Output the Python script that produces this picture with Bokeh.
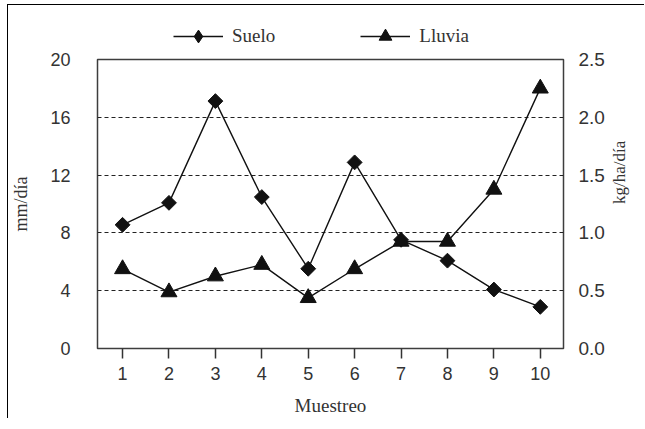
import math
from bokeh.plotting import figure
from bokeh.layouts import column
from bokeh.models import (Range1d, LinearAxis, FixedTicker, NumeralTickFormatter,
                          Legend, LegendItem)
from bokeh.embed import file_html
from bokeh.resources import INLINE

# ---- data ----
muestreo = [1, 2, 3, 4, 5, 6, 7, 8, 9, 10]
suelo = [1.07, 1.26, 2.14, 1.31, 0.69, 1.61, 0.94, 0.76, 0.51, 0.36]   # kg/ha/día (right axis)
lluvia = [5.5, 3.9, 5.0, 5.8, 3.5, 5.5, 7.4, 7.4, 11.0, 18.0]          # mm/día (left axis)
left_ticks = [0, 4, 8, 12, 16, 20]
right_ticks = [0.0, 0.5, 1.0, 1.5, 2.0, 2.5]
grid_ticks = [4, 8, 12, 16]
series_names = ["Suelo", "Lluvia"]
x_label = "Muestreo"
left_label = "mm/día"
right_label = "kg/ha/día"

SANS = "Liberation Sans"
SERIF = "Liberation Serif"
INK = "#111111"
TXT = "#333333"
W = 636

# ---------------- legend strip (top) ----------------
lg = figure(width=W, height=47, output_backend="svg", toolbar_location=None,
            x_range=Range1d(-3, -2), y_range=Range1d(0, 1),
            x_axis_location=None, y_axis_location=None, min_border=0)
lg.grid.visible = False
lg.outline_line_color = None
lg.background_fill_color = "white"
lg.border_fill_color = "white"
g_ls = lg.line(muestreo, suelo, line_color=INK, line_width=1.3)
g_ms = lg.scatter(muestreo, suelo, marker="diamond", size=14,
                  fill_color=INK, line_color=INK)
g_ll = lg.line(muestreo, lluvia, line_color=INK, line_width=1.3)
g_ml = lg.scatter(muestreo, lluvia, marker="triangle", size=14,
                  fill_color=INK, line_color=INK)
legend = Legend(items=[LegendItem(label=series_names[0], renderers=[g_ls, g_ms]),
                       LegendItem(label=series_names[1], renderers=[g_ll, g_ml])],
                location=(76, 0), orientation="horizontal",
                glyph_width=50, glyph_height=32, label_standoff=9, spacing=85,
                padding=0, margin=0, border_line_color=None,
                background_fill_alpha=0,
                label_text_font=SERIF, label_text_font_size="19px",
                label_text_color=TXT)
lg.add_layout(legend)

# ---------------- main chart ----------------
p = figure(width=W, height=372, output_backend="svg", toolbar_location=None,
           x_range=Range1d(0.46, 10.5), y_range=Range1d(0, 20),
           min_border_left=89, min_border_right=81, min_border_top=13,
           min_border_bottom=68)
p.styles = {"margin-top": "-6px"}
p.extra_y_ranges = {"r": Range1d(0, 2.5)}
p.background_fill_color = "white"
p.border_fill_color = "white"
p.border_fill_alpha = 0
p.outline_line_color = "#3d3d3d"
p.outline_line_width = 1.5

# grid
p.xgrid.visible = False
p.ygrid.ticker = FixedTicker(ticks=grid_ticks)
p.ygrid.grid_line_color = "#222222"
p.ygrid.grid_line_dash = "4 3"
p.ygrid.grid_line_width = 1.1

# bottom axis
xa = p.xaxis[0]
xa.ticker = FixedTicker(ticks=muestreo)
xa.axis_line_color = None
xa.major_tick_line_color = "#333333"
xa.major_tick_line_width = 1.5
xa.major_tick_out = 10
xa.major_tick_in = 0
xa.minor_tick_line_color = None
xa.major_label_standoff = 8
xa.major_label_text_font = SANS
xa.major_label_text_font_size = "18px"
xa.major_label_text_color = TXT
xa.axis_label = x_label
xa.axis_label_text_font = SERIF
xa.axis_label_text_font_style = "normal"
xa.axis_label_text_font_size = "19px"
xa.axis_label_text_color = TXT
xa.axis_label_standoff = 12

# left axis
ya = p.yaxis[0]
ya.ticker = FixedTicker(ticks=left_ticks)
ya.axis_line_color = None
ya.major_tick_line_color = None
ya.major_tick_out = 0
ya.major_tick_in = 0
ya.minor_tick_line_color = None
ya.major_label_standoff = 27
ya.major_label_text_font = SANS
ya.major_label_text_font_size = "18px"
ya.major_label_text_color = TXT
ya.axis_label = left_label
ya.axis_label_text_font = SERIF
ya.axis_label_text_font_style = "normal"
ya.axis_label_text_font_size = "18px"
ya.axis_label_text_color = TXT
ya.axis_label_standoff = 16

# right axis
ra = LinearAxis(y_range_name="r", ticker=FixedTicker(ticks=right_ticks),
                formatter=NumeralTickFormatter(format="0.0"))
ra.axis_line_color = None
ra.major_tick_line_color = None
ra.major_tick_out = 0
ra.major_tick_in = 0
ra.minor_tick_line_color = None
ra.major_label_standoff = 15
ra.major_label_text_font = SANS
ra.major_label_text_font_size = "19px"
ra.major_label_text_color = TXT
ra.axis_label = right_label
ra.axis_label_text_font = SERIF
ra.axis_label_text_font_style = "normal"
ra.axis_label_text_font_size = "17px"
ra.axis_label_text_color = TXT
ra.axis_label_standoff = 12
ra.axis_label_orientation = math.pi / 2
p.add_layout(ra, "right")

# series
p.line(muestreo, suelo, y_range_name="r", line_color=INK, line_width=1.4)
p.scatter(muestreo, suelo, y_range_name="r", marker="square",
          angle=math.pi / 4, size=10.5, fill_color=INK, line_color=INK)
p.line(muestreo, lluvia, line_color=INK, line_width=1.4)
p.scatter(muestreo, lluvia, marker="triangle", size=16,
          fill_color=INK, line_color=INK)

lay = column(lg, p, spacing=0)
lay.styles = {"margin-left": "7px", "margin-top": "4px",
              "border-top": "1px solid #000", "border-left": "1px solid #000"}

open("out.html", "w").write(file_html(lay, INLINE))
